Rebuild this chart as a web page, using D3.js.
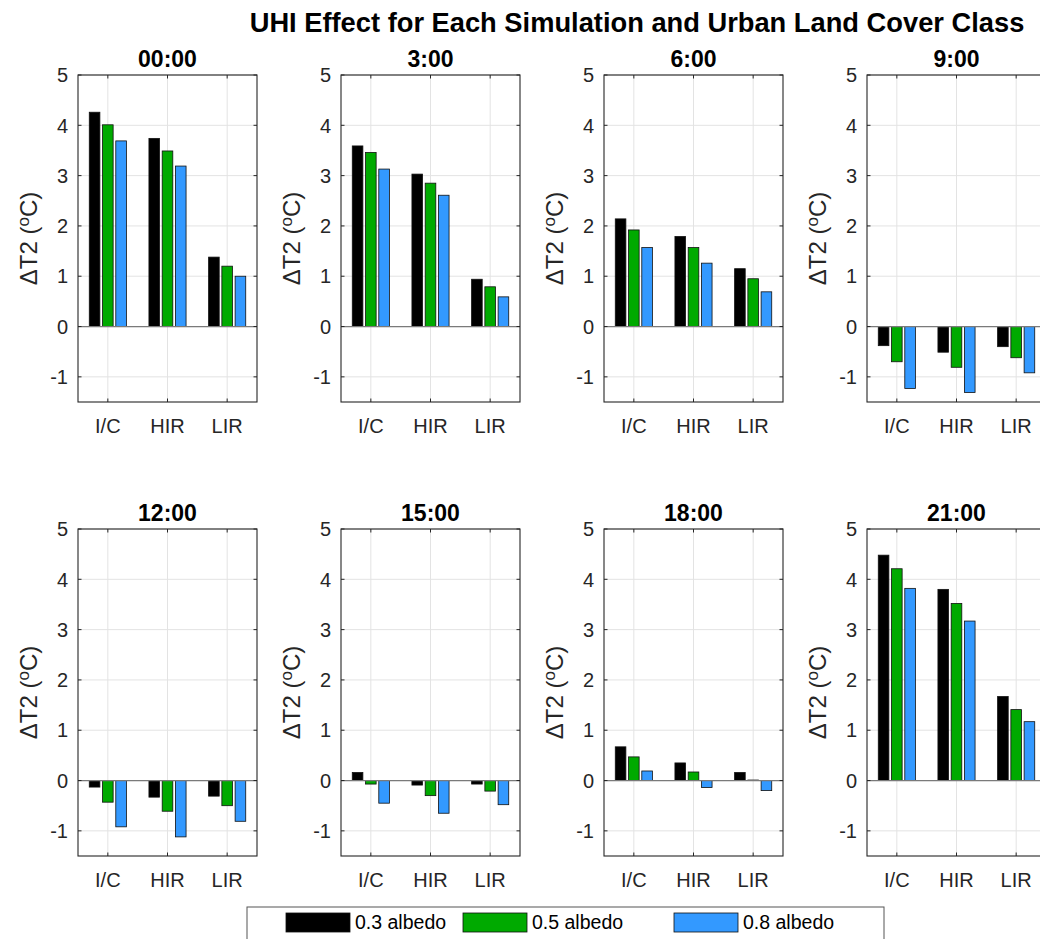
<!DOCTYPE html>
<html>
<head>
<meta charset="utf-8">
<script src="https://cdn.jsdelivr.net/npm/d3@7"></script>
<style>
  body { margin: 0; background: #fff; }
  svg { display: block; }
</style>
</head>
<body>
<svg width="1040" height="939"></svg>
<script>
const width = 1040
const height = 939

// chart data
const times = ["00:00", "3:00", "6:00", "9:00", "12:00", "15:00", "18:00", "21:00"]
const categories = ["I/C", "HIR", "LIR"]
const seriesNames = ["0.3 albedo", "0.5 albedo", "0.8 albedo"]
const seriesColors = ["#000000", "#00aa00", "#3399ff"]
const yTicks = [-1, 0, 1, 2, 3, 4, 5]

// one row per time step, values for I/C, HIR, LIR
const albedo03 = [
    [4.26, 3.74, 1.38],
    [3.59, 3.03, 0.94],
    [2.14, 1.79, 1.15],
    [-0.38, -0.51, -0.40],
    [-0.13, -0.33, -0.31],
    [0.16, -0.09, -0.07],
    [0.67, 0.35, 0.16],
    [4.48, 3.80, 1.67]
]
const albedo05 = [
    [4.01, 3.49, 1.20],
    [3.46, 2.85, 0.79],
    [1.92, 1.57, 0.95],
    [-0.70, -0.81, -0.62],
    [-0.43, -0.61, -0.50],
    [-0.07, -0.30, -0.21],
    [0.47, 0.17, 0.01],
    [4.21, 3.52, 1.41]
]
const albedo08 = [
    [3.69, 3.19, 1.00],
    [3.13, 2.61, 0.59],
    [1.57, 1.26, 0.69],
    [-1.23, -1.31, -0.92],
    [-0.92, -1.12, -0.81],
    [-0.45, -0.65, -0.48],
    [0.19, -0.14, -0.20],
    [3.82, 3.17, 1.17]
]
const allSeries = [albedo03, albedo05, albedo08]

// layout
const colLeft = [78, 341, 604, 867]
const rowTop = [75, 529]
const panelW = 179
const panelH = 327
const axisColor = "#262626"
const gridColor = "#e3e3e3"
const font = "'Liberation Sans', Arial, Helvetica, sans-serif"

const svg = d3.select("svg")
    .attr("font-family", font)

// scales shared by all panels (positions are relative to the panel)
const x = d3.scaleLinear().domain([0.5, 3.5]).range([0, panelW])
const y = d3.scaleLinear().domain([-1.5, 5]).range([panelH, 0])

// MATLAB grouped bar geometry: 3 series, group width 2/3
const groupStep = 2 / 9
const barW = groupStep * 0.8
const tickLen = 3.5

times.forEach((time, i) => {
    const g = svg.append("g")
        .attr("transform", `translate(${colLeft[i % 4]},${rowTop[Math.floor(i / 4)]})`)

    // grid
    g.append("g").selectAll("line.h")
        .data(yTicks)
        .join("line")
        .attr("x1", 0).attr("x2", panelW)
        .attr("y1", d => y(d)).attr("y2", d => y(d))
        .attr("stroke", gridColor)
    g.append("g").selectAll("line.v")
        .data(categories)
        .join("line")
        .attr("x1", (d, k) => x(k + 1)).attr("x2", (d, k) => x(k + 1))
        .attr("y1", 0).attr("y2", panelH)
        .attr("stroke", gridColor)

    // bars
    allSeries.forEach((series, s) => {
        g.append("g").selectAll("rect")
            .data(series[i])
            .join("rect")
            .attr("x", (d, k) => x(k + 1 + (s - 1) * groupStep - barW / 2))
            .attr("width", x(barW) - x(0))
            .attr("y", d => y(Math.max(d, 0)))
            .attr("height", d => Math.abs(y(d) - y(0)))
            .attr("fill", seriesColors[s])
            .attr("stroke", "#111")
            .attr("stroke-width", 0.8)
    })

    // baseline at zero
    g.append("line")
        .attr("x1", 0).attr("x2", panelW)
        .attr("y1", y(0)).attr("y2", y(0))
        .attr("stroke", "#7a7a7a")
        .attr("stroke-width", 1.2)

    // inward ticks on all four sides
    const ticks = g.append("g").attr("stroke", axisColor)
    yTicks.forEach(t => {
        ticks.append("line").attr("x1", 0).attr("x2", tickLen).attr("y1", y(t)).attr("y2", y(t))
        ticks.append("line").attr("x1", panelW).attr("x2", panelW - tickLen).attr("y1", y(t)).attr("y2", y(t))
    })
    categories.forEach((c, k) => {
        ticks.append("line").attr("x1", x(k + 1)).attr("x2", x(k + 1)).attr("y1", panelH).attr("y2", panelH - tickLen)
        ticks.append("line").attr("x1", x(k + 1)).attr("x2", x(k + 1)).attr("y1", 0).attr("y2", tickLen)
    })

    // box
    g.append("rect")
        .attr("width", panelW).attr("height", panelH)
        .attr("fill", "none")
        .attr("stroke", axisColor)
        .attr("stroke-width", 1.1)

    // tick labels
    g.append("g").selectAll("text")
        .data(yTicks)
        .join("text")
        .attr("x", -10)
        .attr("y", d => y(d))
        .attr("dy", "0.36em")
        .attr("text-anchor", "end")
        .attr("font-size", 20)
        .attr("fill", axisColor)
        .text(d => d)
    g.append("g").selectAll("text")
        .data(categories)
        .join("text")
        .attr("x", (d, k) => x(k + 1))
        .attr("y", panelH + 31)
        .attr("text-anchor", "middle")
        .attr("font-size", 20)
        .attr("fill", axisColor)
        .text(d => d)

    // y label: ΔT2 (°C) with superscript o
    const yl = g.append("text")
        .attr("transform", `translate(-41,${panelH / 2}) rotate(-90)`)
        .attr("text-anchor", "middle")
        .attr("font-size", 24)
        .attr("fill", axisColor)
    yl.append("tspan").text("\u0394T2 (")
    yl.append("tspan").attr("font-size", 17).attr("dy", -8).text("o")
    yl.append("tspan").attr("dy", 8).text("C)")

    // panel title
    g.append("text")
        .attr("x", panelW / 2)
        .attr("y", -8)
        .attr("text-anchor", "middle")
        .attr("font-size", 23)
        .attr("font-weight", "bold")
        .attr("fill", "#000")
        .text(time)
})

// main title, fitted to the span seen in the reference
const title = svg.append("text")
    .attr("x", 637)
    .attr("y", 32)
    .attr("text-anchor", "middle")
    .attr("font-size", 25)
    .attr("font-weight", "bold")
    .attr("fill", "#000")
    .text("UHI Effect for Each Simulation and Urban Land Cover Class")
const tw = title.node().getComputedTextLength()
title.attr("font-size", 25 * 775 / tw)

// legend
const legend = svg.append("g").attr("transform", "translate(247,907)")
legend.append("rect")
    .attr("width", 637).attr("height", 34)
    .attr("fill", "#fff")
    .attr("stroke", "#555")
const legendX = d3.scaleOrdinal().domain(seriesNames).range([39, 216, 427])
seriesNames.forEach((name, s) => {
    const lg = legend.append("g").attr("transform", `translate(${legendX(name)},6)`)
    lg.append("rect")
        .attr("width", 64).attr("height", 19)
        .attr("fill", seriesColors[s])
        .attr("stroke", "#111")
        .attr("stroke-width", 0.8)
    lg.append("text")
        .attr("x", 69).attr("y", 16)
        .attr("font-size", 19.5)
        .attr("fill", "#000")
        .text(name)
})
</script>
</body>
</html>
